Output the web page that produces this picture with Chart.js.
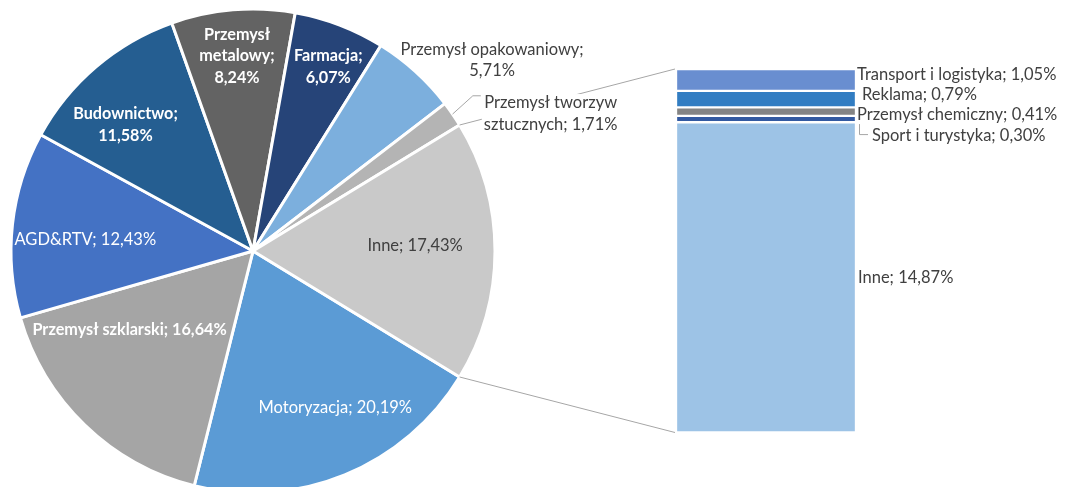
<!DOCTYPE html>
<html>
<head>
<meta charset="utf-8">
<script src="https://cdn.jsdelivr.net/npm/chart.js"></script>
<style>
  html, body { margin: 0; padding: 0; background: #fff; overflow: hidden; }
  #wrap { position: relative; width: 1067px; height: 487px; overflow: hidden; }
  #wrap canvas { position: absolute; left: 0; top: 0; }
</style>
</head>
<body>
<div id="wrap">
  <canvas id="bar" width="1067" height="500"></canvas>
  <canvas id="pie" width="1067" height="500"></canvas>
</div>
<script>
// ---- data (percent of total) ----
// pie slices, clockwise from the lower edge of the "Inne" slice
var pieLabels = ['Motoryzacja', 'Przemysł szklarski', 'AGD&RTV', 'Budownictwo', 'Przemysł metalowy',
                 'Farmacja', 'Przemysł opakowaniowy', 'Przemysł tworzyw sztucznych', 'Inne'];
var pieValues = [20.19, 16.64, 12.43, 11.58, 8.24, 6.07, 5.71, 1.71, 17.43];
var pieColors = ['#5B9BD5', '#A5A5A5', '#4472C4', '#255E91', '#636363',
                 '#264478', '#7CAFDD', '#B4B4B4', '#C9C9C9'];

// breakdown of "Inne", bottom of the stack first
var barLabels = ['Inne', 'Sport i turystyka', 'Przemysł chemiczny', 'Reklama', 'Transport i logistyka'];
var barValues = [14.87, 0.30, 0.41, 0.79, 1.05];
var barColors = ['#9DC3E6', '#335AA1', '#848484', '#327DC2', '#698ED0'];

var FONT = 'Lato, "Open Sans", sans-serif';
var DARK = '#404040';
var FS = 16.5, FS_BOLD = 16.2, LH = 21.5;

function pct(v) { return v.toFixed(2).replace('.', ',') + '%'; }

// label placement for the pie: pos = centre + radius * (fx, fy); words per line
var pieLabelLayout = {
  'Motoryzacja':                 { fx: 0.340,  fy: 0.647,  lines: null,    bold: false, color: '#fff' },
  'Przemysł szklarski':          { fx: -0.510, fy: 0.324,  lines: null,    bold: true,  color: '#fff' },
  'AGD&RTV':                     { fx: -0.693, fy: -0.046, lines: null,    bold: false, color: '#fff' },
  'Budownictwo':                 { fx: -0.527, fy: -0.521, lines: [1, 1],  bold: true,  color: '#fff' },
  'Przemysł metalowy':           { fx: -0.066, fy: -0.805, lines: [1, 1, 1], bold: true, color: '#fff' },
  'Farmacja':                    { fx: 0.311,  fy: -0.761, lines: [1, 1],  bold: true,  color: '#fff' },
  'Przemysł opakowaniowy':       { fx: 0.988,  fy: -0.788, lines: [2, 1],  bold: false, color: DARK },
  'Przemysł tworzyw sztucznych': { fx: 1.230,  fy: -0.568, lines: [2, 2],  bold: false, color: DARK, box: true, leader: true },
  'Inne':                        { fx: 0.670,  fy: -0.021, lines: null,    bold: false, color: DARK }
};

// bar labels: dx from bar right edge, dy from segment middle
var barLabelLayout = {
  'Transport i logistyka': { dx: 1,  dy: -5 },
  'Reklama':               { dx: 6,  dy: -4 },
  'Przemysł chemiczny':    { dx: 1,  dy: 3 },
  'Sport i turystyka':     { dx: 16, dy: 17, leader: true },
  'Inne':                  { dx: 2,  dy: 0 }
};

function splitLines(text, counts) {
  if (!counts) return [text];
  var words = text.split(' '), out = [], k = 0;
  counts.forEach(function (n) { out.push(words.slice(k, k + n).join(' ')); k += n; });
  return out;
}

// ---- bar (breakdown of "Inne") ----
var barSum = barValues.reduce(function (a, b) { return a + b; }, 0);

var barLabelPlugin = {
  id: 'barLabels',
  afterDatasetsDraw: function (chart) {
    var ctx = chart.ctx;
    ctx.save();
    ctx.font = FS + 'px ' + FONT;
    ctx.fillStyle = DARK;
    ctx.textBaseline = 'middle';
    ctx.textAlign = 'left';
    barLabels.forEach(function (name, i) {
      var el = chart.getDatasetMeta(i).data[0];
      var right = el.x + el.width / 2;
      var mid = (el.y + el.base) / 2;
      var L = barLabelLayout[name];
      var tx = right + L.dx, ty = mid + L.dy;
      if (L.leader) {
        ctx.strokeStyle = '#A6A6A6';
        ctx.lineWidth = 1;
        ctx.beginPath();
        ctx.moveTo(right + 3.5, mid + 5);
        ctx.lineTo(right + 3.5, ty - 1.5);
        ctx.lineTo(tx - 4, ty - 1.5);
        ctx.stroke();
      }
      ctx.fillText(name + '; ' + pct(barValues[i]), tx, ty);
    });
    ctx.restore();
  }
};

var barChart = new Chart(document.getElementById('bar'), {
  type: 'bar',
  data: {
    labels: [''],
    datasets: barLabels.map(function (name, i) {
      return {
        label: name,
        data: [barValues[i]],
        backgroundColor: barColors[i],
        borderColor: '#fff',
        borderWidth: 1.5,
        borderSkipped: false,
        barPercentage: 1,
        categoryPercentage: 1
      };
    })
  },
  options: {
    responsive: false,
    animation: false,
    layout: { padding: { left: 676, right: 211, top: 69, bottom: 67.5 } },
    plugins: { legend: { display: false }, tooltip: { enabled: false } },
    scales: {
      x: { stacked: true, display: false },
      y: { stacked: true, display: false, min: 0, max: barSum }
    }
  },
  plugins: [barLabelPlugin]
});

// ---- pie ----
var pieSum = pieValues.reduce(function (a, b) { return a + b; }, 0);
var inneIdx = pieValues.length - 1;
// "Inne" is centred on 3 o'clock, so the first slice starts at its lower edge
var startRotation = 90 + pieValues[inneIdx] / pieSum * 180;

var pieLabelPlugin = {
  id: 'pieLabels',
  afterDatasetsDraw: function (chart) {
    var ctx = chart.ctx;
    var arcs = chart.getDatasetMeta(0).data;
    var inne = arcs[inneIdx];
    var cx = inne.x, cy = inne.y, R = inne.outerRadius;

    // series lines from the "Inne" slice to the stacked bar
    var topEl = barChart.getDatasetMeta(barLabels.length - 1).data[0];
    var botEl = barChart.getDatasetMeta(0).data[0];
    var barLeft = topEl.x - topEl.width / 2;
    ctx.save();
    ctx.strokeStyle = '#A6A6A6';
    ctx.lineWidth = 1;
    ctx.beginPath();
    ctx.moveTo(cx + R * Math.cos(inne.startAngle), cy + R * Math.sin(inne.startAngle));
    ctx.lineTo(barLeft - 1, topEl.y);
    ctx.moveTo(cx + R * Math.cos(inne.endAngle), cy + R * Math.sin(inne.endAngle));
    ctx.lineTo(barLeft - 1, botEl.base);
    ctx.stroke();

    ctx.textBaseline = 'middle';
    ctx.textAlign = 'center';
    pieLabels.forEach(function (name, i) {
      var L = pieLabelLayout[name];
      var lines = splitLines(name + '; ' + pct(pieValues[i]), L.lines);
      var px = cx + R * L.fx, py = cy + R * L.fy;
      ctx.font = (L.bold ? 'bold ' + FS_BOLD : FS) + 'px ' + FONT;
      var w = Math.max.apply(null, lines.map(function (s) { return ctx.measureText(s).width; }));
      var y0 = py - (lines.length - 1) * LH / 2;
      if (L.box) {
        ctx.fillStyle = '#fff';
        ctx.fillRect(px - w / 2 - 2, y0 - LH / 2 + 2, w + 4, lines.length * LH - 2);
      }
      if (L.leader) {
        var a = (arcs[i].startAngle + arcs[i].endAngle) / 2;
        var ex = cx + R * Math.cos(a), ey = cy + R * Math.sin(a);
        ctx.strokeStyle = '#A6A6A6';
        ctx.beginPath();
        ctx.moveTo(ex, ey);
        ctx.lineTo(px - w / 2 - 11, y0 - 7);
        ctx.lineTo(px - w / 2 - 3, y0 - 7);
        ctx.stroke();
      }
      ctx.fillStyle = L.color;
      lines.forEach(function (s, k) { ctx.fillText(s, px, y0 + k * LH); });
    });
    ctx.restore();
  }
};

new Chart(document.getElementById('pie'), {
  type: 'pie',
  data: {
    labels: pieLabels,
    datasets: [{
      data: pieValues,
      backgroundColor: pieColors,
      borderColor: '#fff',
      borderWidth: 3
    }]
  },
  options: {
    responsive: false,
    animation: false,
    rotation: startRotation,
    radius: 242,
    layout: { padding: { left: 12, right: 573, top: 10, bottom: 8 } },
    plugins: { legend: { display: false }, tooltip: { enabled: false } }
  },
  plugins: [pieLabelPlugin]
});
</script>
</body>
</html>
